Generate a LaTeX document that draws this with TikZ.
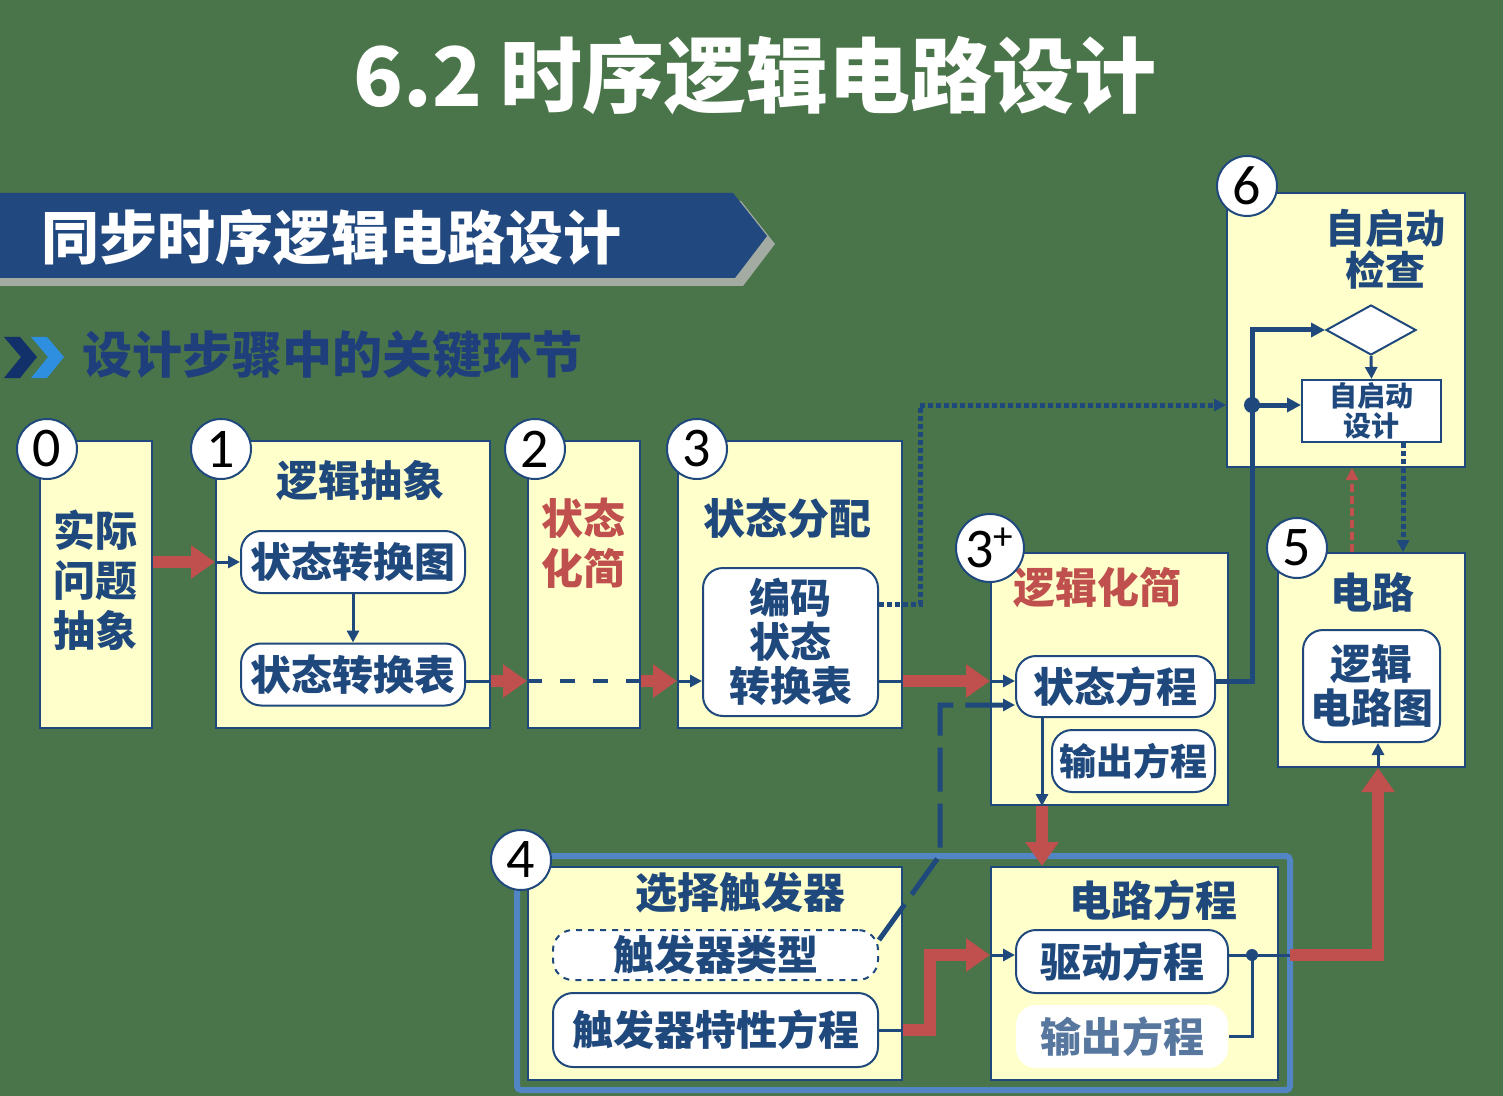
\documentclass[tikz,border=0pt]{standalone}
\usepackage{fontspec}
\setmainfont{Noto Sans CJK SC}
\newfontfamily\numfont{Carlito}
\usetikzlibrary{arrows.meta}
\usetikzlibrary{shapes.geometric}

\definecolor{bggreen}{HTML}{4A7449}
\definecolor{dblue}{HTML}{1F497D}
\definecolor{boxyel}{HTML}{FFFFCC}
\definecolor{ared}{HTML}{C0504D}
\definecolor{lblue}{HTML}{5285C4}
\definecolor{bannerblue}{HTML}{22497F}
\definecolor{bannershade}{HTML}{A3ABA3}
\definecolor{navy}{HTML}{12306A}
\definecolor{skyblue}{HTML}{2E8FE0}
\definecolor{subblue}{HTML}{1F3F7C}

\tikzset{
  stepbox/.style={draw=dblue, fill=boxyel, line width=1pt, inner sep=0pt},
  subbox/.style={draw=dblue, fill=white, rounded corners=10pt, line width=1pt,
    inner sep=0pt, text=dblue, align=center, font=\bfseries\fontsize{20.5}{22}\selectfont},
  steptext/.style={text=dblue, align=center, inner sep=0pt, font=\bfseries\fontsize{21}{25}\selectfont},
  redtext/.style={steptext, text=ared},
  numcirc/.style={circle, draw=dblue, fill=white, line width=1pt, minimum size=30pt,
    inner sep=0pt, font=\numfont\fontsize{28}{28}\selectfont},
  bluetip/.style={-{Triangle[length=6pt,width=6pt]}},
  blueline/.style={draw=dblue, line width=1.5pt},
  bluearrow/.style={blueline, bluetip},
  busline/.style={draw=dblue, line width=2.5pt, -{Triangle[length=7pt,width=7pt]}},
  redarrow/.style={draw=ared, line width=6pt, -{Triangle[length=12pt,width=16pt]}},
  reddash/.style={draw=ared, line width=1.8pt, dash pattern=on 4pt off 2pt, bluetip},
  bluedash/.style={draw=dblue, line width=2pt, dash pattern=on 7.5pt off 9pt},
  longdash/.style={draw=dblue, line width=2.5pt, dash pattern=on 22pt off 6pt},
  dotline/.style={draw=dblue, line width=2.5pt, dash pattern=on 2.5pt off 1.5pt},
}

\begin{document}
\begin{tikzpicture}[x=0.5pt, y=-0.5pt]
    % 背景
    \fill[bggreen] (0,0) rectangle (1503,1096);
    \useasboundingbox (0,0) rectangle (1503,1096);

    % 标题与横幅
    \node[text=white, font=\bfseries\fontsize{41}{41}\selectfont] (title) at (755,75) {6.2 时序逻辑电路设计};
    \fill[bannershade] (0,201) -- (741,201) -- (775,244) -- (743,286) -- (0,286) -- cycle;
    \fill[bannerblue] (0,193) -- (733,193) -- (767,236) -- (735,278) -- (0,278) -- cycle;
    \node[text=white, font=\bfseries\fontsize{29}{29}\selectfont] (banner) at (331,237) {同步时序逻辑电路设计};
    \fill[navy] (4,337) -- (20,337) -- (37,357) -- (20,378) -- (4,378) -- (21,357) -- cycle;
    \fill[skyblue] (31,337) -- (47,337) -- (64,357) -- (47,378) -- (31,378) -- (48,357) -- cycle;
    \node[text=subblue, font=\bfseries\fontsize{25}{25}\selectfont] (subtitle) at (332,355) {设计步骤中的关键环节};

    % 第4步外框
    \draw[lblue, line width=3pt, rounded corners=2pt] (517,856) rectangle (1290,1090);
    \coordinate (grpeast) at (1290,0);

    % 各步骤框
    \node[stepbox, minimum width=56pt, minimum height=143.5pt] (real) at (96,584.5) {};
    \node[stepbox, minimum width=137pt, minimum height=143.5pt] (abst) at (353,584.5) {};
    \node[stepbox, minimum width=56pt, minimum height=143.5pt] (simp) at (584,584.5) {};
    \node[stepbox, minimum width=112pt, minimum height=143.5pt] (asgn) at (790,584.5) {};
    \node[stepbox, minimum width=118.5pt, minimum height=126pt] (lsimp) at (1109.5,679) {};
    \node[stepbox, minimum width=93.5pt, minimum height=107pt] (circ) at (1371.5,660) {};
    \node[stepbox, minimum width=119pt, minimum height=137pt] (selfck) at (1346,330) {};
    \node[stepbox, minimum width=187pt, minimum height=106.5pt] (ffsel) at (715,973.5) {};
    \node[stepbox, minimum width=143.5pt, minimum height=106.5pt] (ceq) at (1134.5,973.5) {};

    % 框内标题
    \node[steptext] at (95,580) {实际\\问题\\抽象};
    \node[steptext] at (360,481) {逻辑抽象};
    \node[redtext] at (583,543) {状态\\化简};
    \node[steptext] at (787,518) {状态分配};
    \node[redtext] at (1097,588) {逻辑化简};
    \node[steptext] at (1372,592) {电路};
    \node[steptext, font=\bfseries\fontsize{20}{21}\selectfont] at (1385,249) {自启动\\检查};
    \node[steptext] at (740,893) {选择触发器};
    \node[steptext] at (1153,900) {电路方程};

    % 内部小框
    \node[subbox, minimum width=112pt, minimum height=31pt] (stdiag) at (353,562) {状态转换图};
    \node[subbox, minimum width=112pt, minimum height=31pt] (sttab) at (353,674.5) {状态转换表};
    \node[subbox, minimum width=87.5pt, minimum height=74pt] (enctab) at (790.5,642) {编码\\状态\\转换表};
    \node[subbox, minimum width=99.5pt, minimum height=30.5pt] (steq) at (1115.5,686.5) {状态方程};
    \node[subbox, minimum width=81.5pt, minimum height=31pt, font=\bfseries\fontsize{18.5}{20}\selectfont] (outeq) at (1133.5,761) {输出方程};
    \node[subbox, minimum width=68.5pt, minimum height=56pt] (logic) at (1371.5,686) {逻辑\\电路图};
    \node[subbox, dashed, minimum width=162.5pt, minimum height=25pt] (fftype) at (715.5,955) {触发器类型};
    \node[subbox, minimum width=162.5pt, minimum height=37pt] (ffchar) at (715.5,1030) {触发器特性方程};
    \node[subbox, minimum width=106pt, minimum height=31.5pt] (drveq) at (1122,961.5) {驱动方程};
    \node[subbox, draw=none, text=dblue!75, minimum width=106pt, minimum height=31.5pt] (outeqb) at (1122,1036.5) {输出方程};
    \node[diamond, draw=dblue, fill=white, line width=1pt, minimum width=45pt, minimum height=25pt, inner sep=0pt] (dia) at (1371,330) {};
    \node[draw=dblue, fill=white, line width=1pt, minimum width=69.5pt, minimum height=31pt, inner sep=0pt,
      text=dblue, align=center, font=\bfseries\fontsize{14}{15}\selectfont] (sdes) at (1371.5,411) {自启动\\设计};

    % 主流程
    \coordinate (flow) at (0,681);
    \draw[redarrow] (real.east |- stdiag) -- (abst.west |- stdiag);
    \draw[bluearrow] (abst.west |- stdiag) -- (stdiag.west);
    \draw[bluearrow] (stdiag.south) -- (sttab.north);
    \draw[blueline] (sttab.east |- flow) -- (abst.east |- flow);
    \draw[redarrow] (abst.east |- flow) -- (simp.west |- flow);
    \draw[bluedash] (simp.west |- flow) -- (simp.east |- flow);
    \draw[redarrow] (simp.east |- flow) -- (asgn.west |- flow);
    \draw[bluearrow] (asgn.west |- flow) -- (enctab.west |- flow);
    \draw[blueline] (enctab.east |- flow) -- (asgn.east |- flow);
    \draw[redarrow] (asgn.east |- flow) -- (lsimp.west |- flow);
    \draw[bluearrow] (lsimp.west |- flow) -- (steq.west |- flow);

    % 编码 -> 自启动检查
    \coordinate (dotup) at (920,405);
    \draw[dotline, bluetip] (enctab.east |- 0,604) -| (dotup) -- (selfck.west |- dotup);

    % 状态方程 -> 自启动检查
    \coordinate (bus) at (1252,405);
    \draw[busline] (steq.east |- flow) -| (bus) |- (dia.west);
    \draw[busline] (bus) -- (sdes.west |- bus);
    \fill[dblue] (bus) circle (4pt);
    \draw[bluearrow] (dia.south) -- (sdes.north);

    % 自启动检查 <-> 电路
    \coordinate (dnx) at (1403,0);
    \coordinate (upx) at (1352,0);
    \draw[dotline] (sdes.south -| dnx) -- (selfck.south -| dnx);
    \draw[dotline, bluetip] (selfck.south -| dnx) -- (circ.north -| dnx);
    \draw[reddash] (circ.north -| upx) -- (selfck.south -| upx);

    % 触发器类型 -> 状态方程
    \coordinate (kink) at (940,855);
    \coordinate (kinkb) at (940,705);
    \draw[longdash, bluetip] ([yshift=7.5pt]fftype.east) -- (kink) -- (kinkb) -- (steq.west |- kinkb);

    % 状态方程 -> 电路方程
    \coordinate (downx) at (1042,0);
    \draw[bluearrow] (steq.south -| downx) -- (lsimp.south -| downx);
    \draw[redarrow] (lsimp.south -| downx) -- (ceq.north -| downx);

    % 特性方程 -> 驱动方程
    \coordinate (jog) at (930,955);
    \draw[blueline] (ffchar.east) -- (ffsel.east |- ffchar);
    \draw[redarrow] (ffsel.east |- ffchar) -| (jog) -- (ceq.west |- jog);
    \draw[bluearrow] (ceq.west |- jog) -- (drveq.west |- jog);

    % 电路方程 -> 电路图
    \coordinate (join) at (1252,955);
    \coordinate (riser) at (1378,955);
    \draw[blueline] (drveq.east |- join) -- (grpeast |- join);
    \draw[blueline] (outeqb.east) -| (join);
    \fill[dblue] (join) circle (3pt);
    \draw[redarrow] (grpeast |- join) -| (circ.south -| riser);
    \draw[bluearrow] (circ.south -| riser) -- (logic.south -| riser);

    % 步骤编号
    \node[numcirc] (n0) at (47,449) {0};
    \node[numcirc] (n1) at (221,449) {1};
    \node[numcirc] (n2) at (535,449) {2};
    \node[numcirc] (n3) at (697,449) {3};
    \node[numcirc, minimum size=34pt] (n3p) at (990,548) {3\textsuperscript{+}};
    \node[numcirc] (n4) at (521,860) {4};
    \node[numcirc] (n5) at (1297,548) {5};
    \node[numcirc] (n6) at (1247,186) {6};
\end{tikzpicture}
\end{document}
